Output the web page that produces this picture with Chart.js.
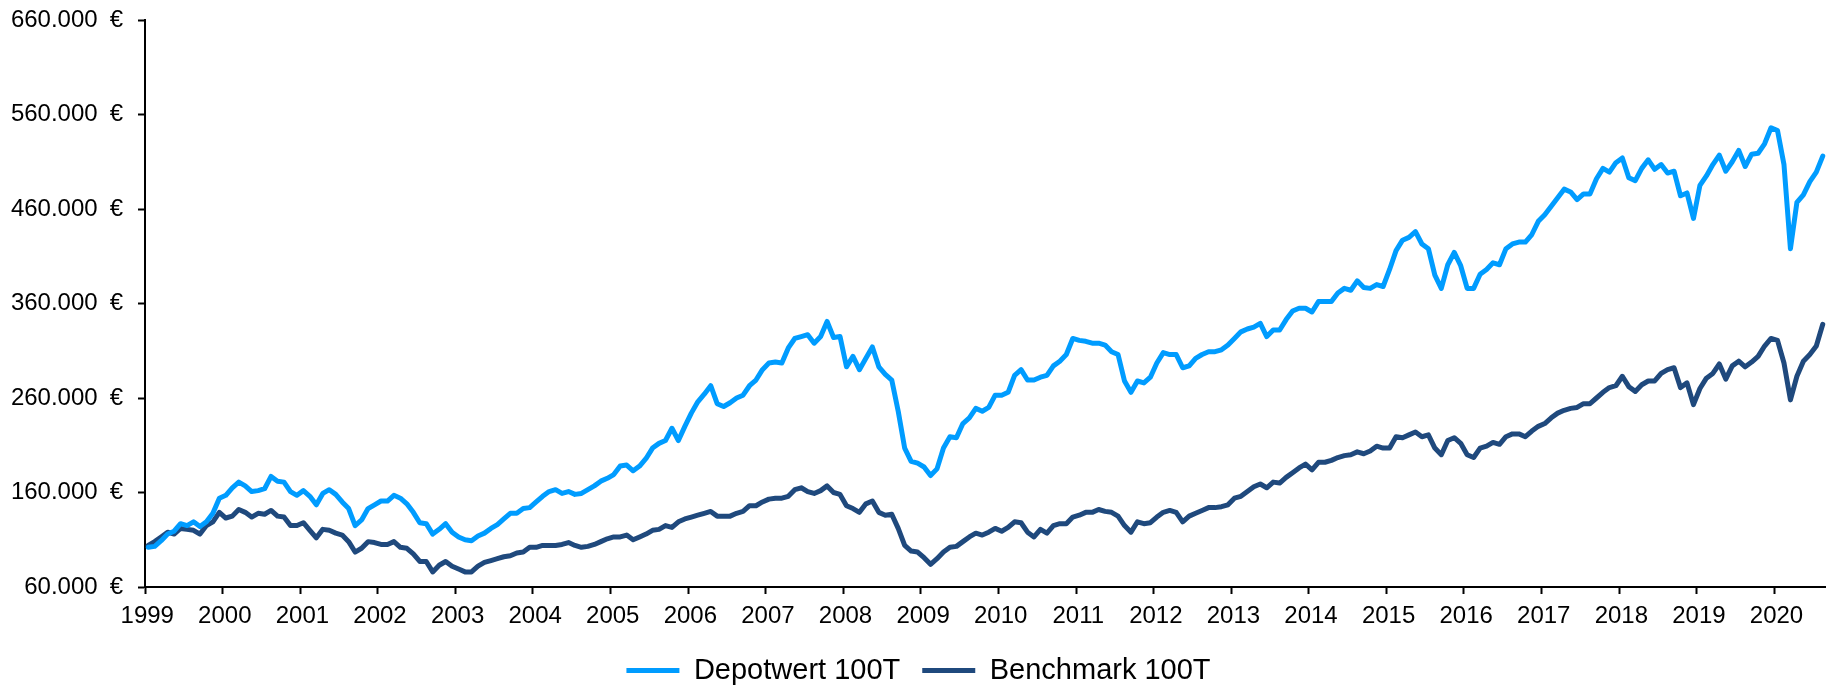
<!DOCTYPE html>
<html>
<head>
<meta charset="utf-8">
<script src="https://cdn.jsdelivr.net/npm/chart.js@4"></script>
<style>
  html, body { margin: 0; background: #fff; }
  #wrap { width: 1826px; height: 685px; }
</style>
</head>
<body>
<div id="wrap"><canvas id="Graph"></canvas></div>
<script>
const years = ["1999","2000","2001","2002","2003","2004","2005","2006","2007","2008","2009",
    "2010","2011","2012","2013","2014","2015","2016","2017","2018","2019","2020"];

const seriesNames = ["Depotwert 100T", "Benchmark 100T"];

// monthly values in thousand euro, Jan 1999 .. Aug 2020 (one row per year)
const depotwert = [
    102,103,109,116,119,127,125,129,124,129,138,154,
    157,165,171,167,161,162,164,177,172,171,161,157,
    162,156,147,159,163,158,150,143,125,131,143,147,
    151,151,157,154,148,139,128,127,116,121,127,118,
    113,110,109,114,117,122,126,132,138,138,143,144,
    150,156,161,163,159,161,158,159,163,167,172,175,
    179,188,189,183,188,196,207,212,215,228,215,230,
    244,256,264,273,254,251,255,260,263,273,279,290,
    297,298,297,313,323,325,327,318,325,341,324,325,
    293,304,290,302,314,293,285,279,246,207,193,191,
    187,178,185,207,219,218,233,239,249,246,250,263,
    263,266,284,290,279,279,282,284,294,299,306,323,
    321,320,318,318,316,309,306,278,266,278,276,282,
    297,308,306,306,292,294,302,306,309,309,311,316,
    323,330,333,335,339,325,332,332,343,352,355,355,
    351,362,362,362,371,376,374,384,377,376,380,378,
    396,416,427,430,436,423,418,390,376,401,414,400,
    376,376,391,396,403,401,418,423,425,425,433,447,
    454,463,472,481,478,470,476,476,492,503,499,509,
    514,493,490,503,512,502,507,498,500,474,477,450,
    485,495,507,517,500,510,522,505,518,519,529,546,
    543,507,418,467,475,489,499,516
];

const benchmark = [
    104,108,113,118,116,122,121,120,116,125,129,139,
    133,135,142,139,134,138,137,141,135,134,125,125,
    128,120,112,121,120,117,115,108,97,101,108,107,
    105,105,108,102,101,95,87,87,76,83,87,82,
    79,76,76,82,86,88,90,92,93,96,97,102,
    102,104,104,104,105,107,104,102,103,105,108,111,
    113,113,115,110,113,116,120,121,125,123,129,132,
    134,136,138,140,135,135,135,138,140,146,146,150,
    153,154,154,156,163,165,161,159,162,167,160,158,
    146,143,139,148,151,139,136,137,122,104,98,97,
    91,84,90,97,102,103,108,113,117,115,118,122,
    119,123,129,128,118,113,121,117,125,127,127,134,
    136,139,139,142,140,139,135,125,118,129,127,128,
    134,139,141,139,129,135,138,141,144,144,145,147,
    154,156,161,166,169,165,171,170,176,181,186,190,
    184,192,192,194,197,199,200,203,201,204,209,207,
    207,219,218,221,224,219,221,207,200,215,218,212,
    200,197,207,209,213,211,219,222,222,219,225,230,
    233,239,244,247,249,250,254,254,260,266,271,273,
    283,272,267,274,278,278,286,290,292,271,276,253,
    270,281,286,296,280,294,299,293,298,304,315,323,
    321,297,258,283,299,306,315,338
];

const lightBlue = "#009cff";
const darkBlue = "#1f497d";
const fontFamily = "'Liberation Sans', Arial, sans-serif";

// one category per month
const monthLabels = [];
years.forEach(y => {
    for (let m = 1; m <= 12; m++) monthLabels.push(m + "/" + y);
});
monthLabels.length = depotwert.length;

function lineSet(name, values, color){
    return {
        label: name,
        data: values,
        borderColor: color,
        backgroundColor: color,
        borderWidth: 5,
        borderJoinStyle: "round",
        borderCapStyle: "round",
        pointRadius: 0,
        tension: 0
    };
}

function main(){
    new Chart("Graph", {
        type: "line",
        data: {
            labels: monthLabels,
            datasets: [
                lineSet(seriesNames[0], depotwert, lightBlue),
                lineSet(seriesNames[1], benchmark, darkBlue)
            ]
        },
        options: {
            animation: false,
            responsive: true,
            maintainAspectRatio: false,
            layout: {padding: {left: 11, top: 20, right: 0, bottom: -10}},
            plugins: {
                tooltip: {enabled: false},
                legend: {
                    position: "bottom",
                    labels: {
                        usePointStyle: true,
                        pointStyle: "line",
                        pointStyleWidth: 53,
                        padding: 22,
                        color: "#000",
                        font: {family: fontFamily, size: 29}
                    }
                }
            },
            scales: {
                x: {
                    offset: true,
                    grid: {
                        offset: true,
                        drawOnChartArea: false,
                        tickLength: 7,
                        tickWidth: 2,
                        tickColor: c => c.index % 12 === 0 ? "#000" : "rgba(0,0,0,0)"
                    },
                    border: {color: "#000", width: 2},
                    ticks: {
                        autoSkip: false,
                        maxRotation: 0,
                        minRotation: 0,
                        padding: 8,
                        labelOffset: -1,
                        color: "#000",
                        font: {family: fontFamily, size: 24},
                        callback: (v, i) => i % 12 === 0 ? years[i / 12] : ""
                    },
                    afterFit: s => { s.height = 47; s.paddingLeft = 0; s.paddingRight = 0; }
                },
                y: {
                    min: 60,
                    max: 660,
                    grid: {drawOnChartArea: false, tickLength: 7, tickWidth: 2, tickColor: "#000"},
                    border: {color: "#000", width: 2},
                    ticks: {
                        stepSize: 100,
                        padding: 15,
                        color: "#000",
                        font: {family: fontFamily, size: 24},
                        callback: v => v + ".000\u2002€"
                    },
                    afterFit: s => { s.width = 134; s.paddingTop = 0; s.paddingBottom = 0; }
                }
            }
        }
    });
}

main();
</script>
</body>
</html>
